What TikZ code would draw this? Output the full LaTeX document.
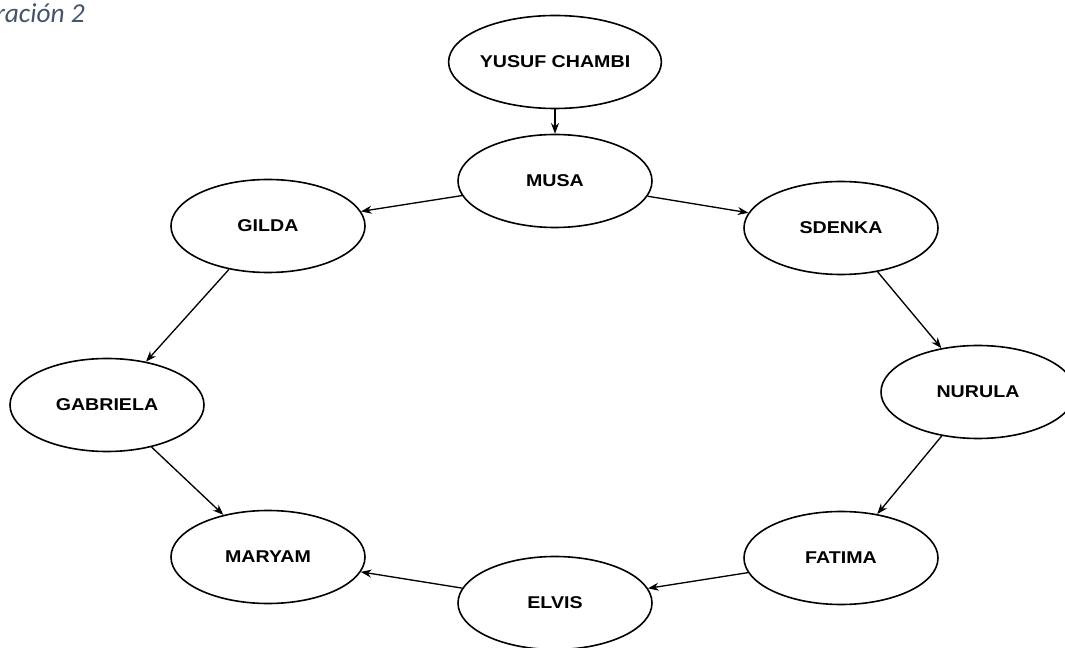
\documentclass[tikz,border=0pt]{standalone}
\usepackage{fontspec}
\setmainfont{Liberation Sans}
\newfontfamily\nodefont[FakeStretch=1.15]{Liberation Sans}
\newfontfamily\capfont{Carlito}
\usetikzlibrary{shapes.geometric,arrows.meta}
\definecolor{capcol}{RGB}{68,84,106}
\begin{document}
\begin{tikzpicture}[x=0.75pt,y=-0.75pt,
  person/.style={ellipse,draw,line width=1.2pt,minimum width=145.5pt,minimum height=69.75pt,inner sep=0pt,
    font=\nodefont\bfseries\fontsize{12.8}{14}\selectfont},
  link/.style={line width=1pt,-{Stealth[length=8pt,width=6pt]}}]
\useasboundingbox (0,0) rectangle (1065,648);
\node[anchor=base east,inner sep=0pt,text=capcol,font=\capfont\itshape\fontsize{20.5}{22}\selectfont] (cap) at (85,23) {ración 2};
\node[person] (yusuf) at (555,62) {YUSUF CHAMBI};
\node[person] (musa) at (555,181) {MUSA};
\node[person] (gilda) at (268,226) {GILDA};
\node[person] (sdenka) at (841,228) {SDENKA};
\node[person] (gabriela) at (107,405) {GABRIELA};
\node[person] (nurula) at (978,392) {NURULA};
\node[person] (maryam) at (268,557) {MARYAM};
\node[person] (fatima) at (841,558) {FATIMA};
\node[person] (elvis) at (555,603) {ELVIS};
\draw[link] (yusuf) -- (musa);
\draw[link] (musa) -- (gilda);
\draw[link] (musa) -- (sdenka);
\draw[link] (gilda) -- (gabriela);
\draw[link] (gabriela) -- (maryam);
\draw[link] (sdenka) -- (nurula);
\draw[link] (nurula) -- (fatima);
\draw[link] (fatima) -- (elvis);
\draw[link] (elvis) -- (maryam);
\end{tikzpicture}
\end{document}
